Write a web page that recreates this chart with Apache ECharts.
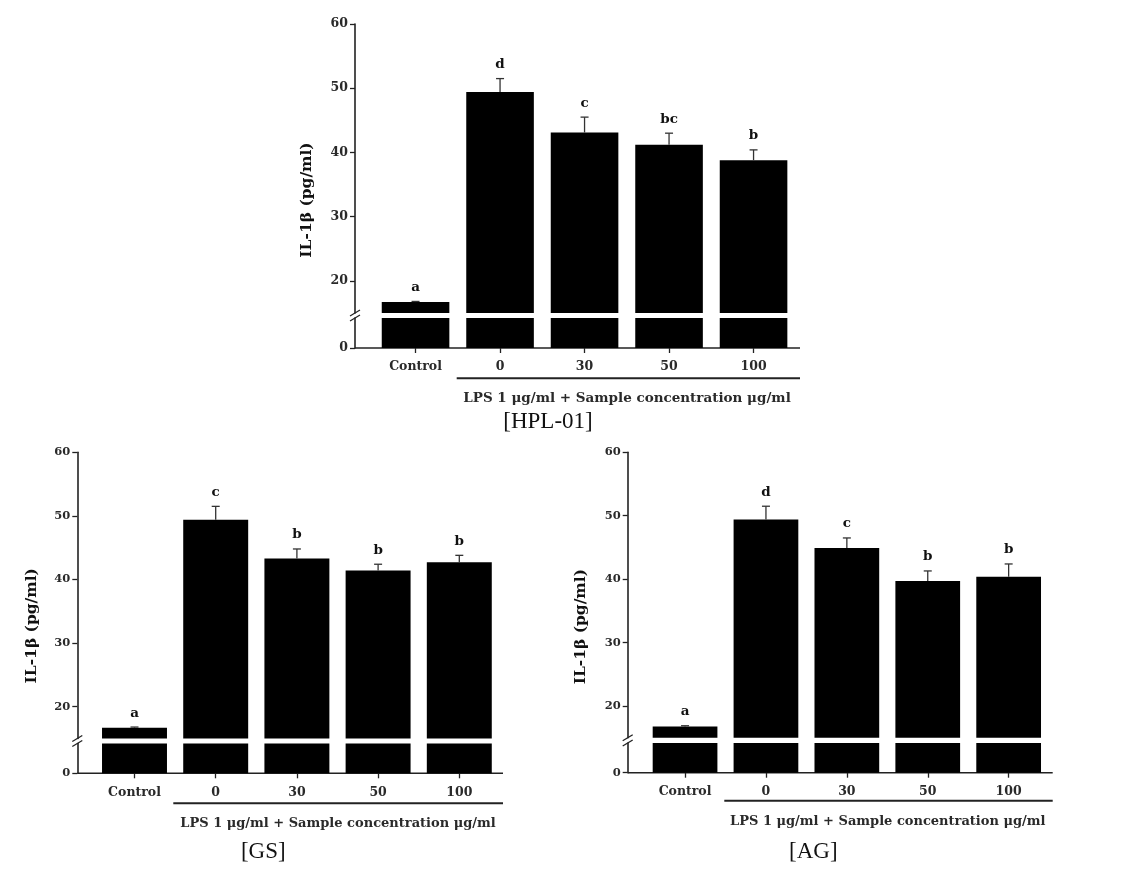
<!DOCTYPE html>
<html><head><meta charset="utf-8">
<script src="https://cdn.jsdelivr.net/npm/echarts@6/dist/echarts.min.js"></script>
<style>html,body{margin:0;padding:0;background:#fff}#c{width:1121px;height:877px}</style>
</head><body><div id="c"></div><script>
// ---- data ----
const categories = ['Control', '0', '30', '50', '100'];
const hplMeans = [16.7, 49.4, 43.1, 41.2, 38.8];
const hplErrors = [0.1, 2.1, 2.4, 1.8, 1.6];
const hplLetters = ['a', 'd', 'c', 'bc', 'b'];
const gsMeans = [16.7, 49.4, 43.3, 41.4, 42.7];
const gsErrors = [0.1, 2.1, 1.5, 1.0, 1.1];
const gsLetters = ['a', 'c', 'b', 'b', 'b'];
const agMeans = [16.8, 49.4, 44.9, 39.7, 40.4];
const agErrors = [0.1, 2.1, 1.6, 1.6, 2.0];
const agLetters = ['a', 'd', 'c', 'b', 'b'];
const yTicks = [0, 20, 30, 40, 50, 60];
const captions = ['[HPL-01]', '[GS]', '[AG]'];
const yTitle = 'IL-1β (pg/ml)';
const xTitle = 'LPS 1 μg/ml + Sample concentration μg/ml';
const breakFrom = 15; // upper segment starts here
const lowerMax = 5;   // lower segment ends here

// ---- layout ----
const layouts = [
  {axisX:355, catLeft:373.3, catWidth:422.5, lineEnd:800, yTop:24, yHi:313, yLo:318, y0:348,
   bracketX1:456.7, bracketY:378.3, lpsX:627, lpsY:398, capX:548, capY:421.7, nameX:306.7, nameY:200, ySize:12.5, lpsSize:13.5},
  {axisX:77.3, catLeft:93.9, catWidth:406, lineEnd:503, yTop:452.3, yHi:738.5, yLo:743.5, y0:773.3,
   bracketX1:173.3, bracketY:803.3, lpsX:338, lpsY:823.3, capX:263.3, capY:851.7, nameX:32.3, nameY:625.8, ySize:11.5, lpsSize:13},
  {axisX:627.7, catLeft:644.6, catWidth:404.5, lineEnd:1052.7, yTop:452.3, yHi:737.8, yLo:743, y0:772.7,
   bracketX1:724.3, bracketY:800.7, lpsX:887.8, lpsY:821.7, capX:813.3, capY:851.7, nameX:580.7, nameY:626.7, ySize:11.5, lpsSize:13}
];
const panels = [
  {means: hplMeans, errors: hplErrors, letters: hplLetters},
  {means: gsMeans, errors: gsErrors, letters: gsLetters},
  {means: agMeans, errors: agErrors, letters: agLetters}
];

const FONT = '"DejaVu Serif", "Liberation Serif", serif';
const INK = '#222';
const TXT = '#2a2a2a';
const grid = [], xAxis = [], yAxis = [], series = [], graphic = [];

panels.forEach((p, k) => {
  const L = layouts[k];
  const up = 2 * k, lo = 2 * k + 1;
  const off = L.catLeft - L.axisX;
  grid.push({left: L.catLeft, top: L.yTop, width: L.catWidth, height: L.yHi - L.yTop, outerBoundsMode: 'none'});
  grid.push({left: L.catLeft, top: L.yLo, width: L.catWidth, height: L.y0 - L.yLo, outerBoundsMode: 'none'});
  xAxis.push({type: 'category', gridIndex: up, data: categories, show: false});
  xAxis.push({type: 'category', gridIndex: lo, data: categories,
    axisLine: {show: false},
    axisTick: {show: true, alignWithLabel: true, length: 5, lineStyle: {color: INK, width: 1.3}},
    axisLabel: {margin: 12.5, color: TXT, fontFamily: FONT, fontWeight: 'bold', fontSize: 12.5}
  });
  const upTicks = yTicks.filter(v => v >= breakFrom);
  const loTicks = yTicks.filter(v => v < breakFrom);
  const yCommon = {
    type: 'value', offset: off, splitLine: {show: false},
    axisLine: {show: true, lineStyle: {color: INK, width: 1.6}},
  };
  yAxis.push(Object.assign({}, yCommon, {gridIndex: up, min: breakFrom, max: 60,
    axisTick: {show: true, length: 5, customValues: upTicks, lineStyle: {color: INK, width: 1.3}},
    axisLabel: {customValues: upTicks, margin: 7, color: TXT, fontFamily: FONT, fontWeight: 'bold', fontSize: L.ySize}
  }));
  yAxis.push(Object.assign({}, yCommon, {gridIndex: lo, min: 0, max: lowerMax,
    axisTick: {show: true, length: 5, customValues: loTicks, lineStyle: {color: INK, width: 1.3}},
    axisLabel: {customValues: loTicks, margin: 7, color: TXT, fontFamily: FONT, fontWeight: 'bold', fontSize: L.ySize}
  }));
  const barBase = {type: 'bar', barWidth: '80%', itemStyle: {color: '#000'}, silent: true, animation: false};
  series.push(Object.assign({}, barBase, {xAxisIndex: up, yAxisIndex: up, data: p.means}));
  series.push(Object.assign({}, barBase, {xAxisIndex: lo, yAxisIndex: lo, data: p.means}));
  const letters = p.letters;
  series.push({
    type: 'custom', xAxisIndex: up, yAxisIndex: up, animation: false, silent: true, z: 5,
    data: p.means.map((m, i) => [i, m, p.errors[i]]),
    encode: {x: 0, y: 1},
    renderItem: function (params, api) {
      const i = api.value(0), m = api.value(1), e = api.value(2);
      const a = api.coord([i, m]), b = api.coord([i, m + e]);
      return {type: 'group', children: [
        {type: 'line', shape: {x1: a[0], y1: a[1], x2: b[0], y2: b[1]}, style: {stroke: '#333', lineWidth: 1.3}},
        {type: 'line', shape: {x1: b[0] - 4, y1: b[1], x2: b[0] + 4, y2: b[1]}, style: {stroke: '#333', lineWidth: 1.3}},
        {type: 'text', x: b[0], y: b[1] - 7, style: {text: letters[i], textAlign: 'center', textVerticalAlign: 'bottom',
          fontFamily: FONT, fontWeight: 'bold', fontSize: 13.5, fill: '#111'}}
      ]};
    }
  });
  // axis baseline (extends from y axis to the right end)
  graphic.push({type: 'line', shape: {x1: L.axisX, y1: L.y0, x2: L.lineEnd, y2: L.y0}, style: {stroke: INK, lineWidth: 1.6}, silent: true});
  // bracket under LPS groups
  graphic.push({type: 'line', shape: {x1: L.bracketX1, y1: L.bracketY, x2: L.lineEnd, y2: L.bracketY}, style: {stroke: INK, lineWidth: 2}, silent: true});
  // break marks
  graphic.push({type: 'line', shape: {x1: L.axisX - 5, y1: L.yHi + 3, x2: L.axisX + 5, y2: L.yHi - 3}, style: {stroke: INK, lineWidth: 1.3}, silent: true});
  graphic.push({type: 'line', shape: {x1: L.axisX - 5, y1: L.yLo + 3, x2: L.axisX + 5, y2: L.yLo - 3}, style: {stroke: INK, lineWidth: 1.3}, silent: true});
  // y title
  graphic.push({type: 'text', x: L.nameX, y: L.nameY, rotation: Math.PI / 2, silent: true,
    style: {text: yTitle, textAlign: 'center', textVerticalAlign: 'middle', fontFamily: FONT, fontWeight: 'bold', fontSize: 15.5, fill: '#111'}});
  // x title
  graphic.push({type: 'text', x: L.lpsX, y: L.lpsY, silent: true,
    style: {text: xTitle, textAlign: 'center', textVerticalAlign: 'middle', fontFamily: FONT, fontWeight: 'bold', fontSize: L.lpsSize, fill: TXT}});
  // caption
  graphic.push({type: 'text', x: L.capX, y: L.capY, silent: true,
    style: {text: captions[k], textAlign: 'center', textVerticalAlign: 'middle', fontFamily: '"Liberation Serif", serif', fontSize: 23, fill: '#111'}});
});

const chart = echarts.init(document.getElementById('c'));
chart.setOption({backgroundColor: '#fff', animation: false, grid, xAxis, yAxis, series, graphic});
</script></body></html>
